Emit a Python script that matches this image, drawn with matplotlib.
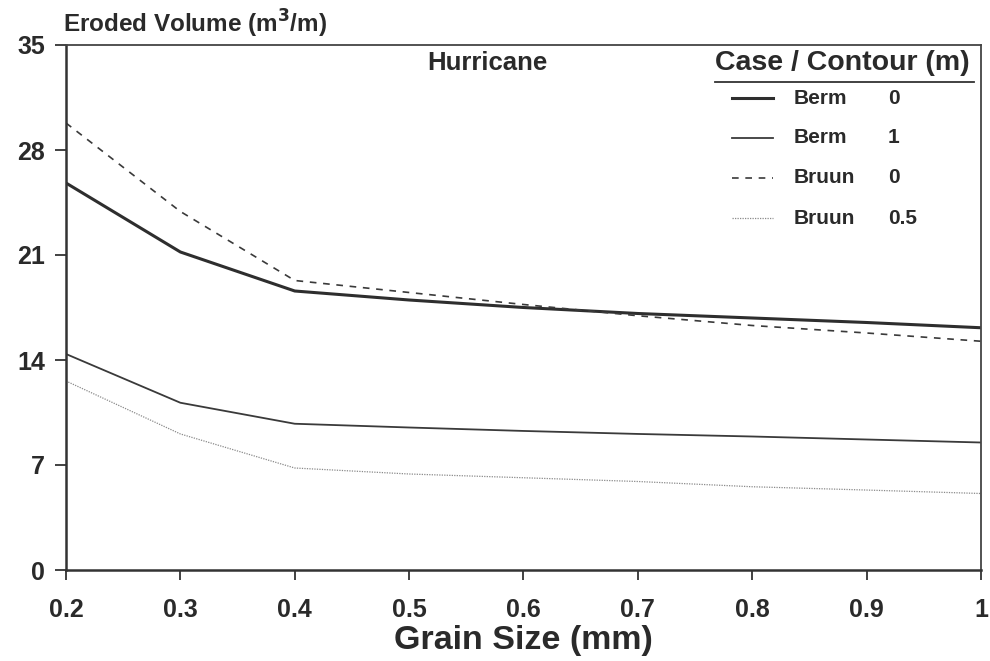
import numpy as np
import matplotlib
matplotlib.use('Agg')
import matplotlib.pyplot as plt
from matplotlib import rcParams

textcolor = '#2a2a2a'

rcParams['font.family'] = ['Liberation Sans', 'DejaVu Sans']
rcParams['font.weight'] = 'bold'
rcParams['text.color'] = textcolor
rcParams['mathtext.default'] = 'bf'

# Data.

grain = [0.2, 0.3, 0.4, 0.5, 0.6, 0.7, 0.8, 0.9, 1.0]

berm_0    = [25.8, 21.2, 18.6, 18.0, 17.5, 17.1, 16.8, 16.5, 16.15]
berm_1    = [14.4, 11.15, 9.75, 9.5, 9.27, 9.07, 8.9, 8.7, 8.5]
bruun_0   = [29.8, 23.9, 19.3, 18.5, 17.7, 16.95, 16.3, 15.8, 15.25]
bruun_05  = [12.6, 9.07, 6.8, 6.4, 6.15, 5.9, 5.55, 5.33, 5.1]

x_ticks = [0.2, 0.3, 0.4, 0.5, 0.6, 0.7, 0.8, 0.9, 1.0]
x_tick_labels = ['0.2', '0.3', '0.4', '0.5', '0.6', '0.7', '0.8', '0.9', '1']
y_ticks = [0, 7, 14, 21, 28, 35]

cases    = ['Berm', 'Berm', 'Bruun', 'Bruun']
contours = ['0', '1', '0', '0.5']

# Styles.

styles = [
    dict(color='#2e2e2e', linewidth=2.2, linestyle='-'),
    dict(color='#3a3a3a', linewidth=1.3, linestyle='-'),
    dict(color='#3a3a3a', linewidth=1.2, linestyle=(0, (4, 4))),
    dict(color='#8a8a8a', linewidth=0.9, linestyle=(0, (1, 1))),
]

# Plot.

fig = plt.figure(figsize=(9.9, 6.61), dpi=100)
ax = fig.add_axes([66/990, 1 - 570/661, 915/990, 525/661])

series = [berm_0, berm_1, bruun_0, bruun_05]
for values, st in zip(series, styles):
    ax.plot(grain, values, **st)

ax.set_xlim(0.2, 1.0)
ax.set_ylim(0, 35)
ax.set_xticks(x_ticks)
ax.set_xticklabels(x_tick_labels)
ax.set_yticks(y_ticks)

for spine in ['left', 'bottom']:
    ax.spines[spine].set_linewidth(1.8)
    ax.spines[spine].set_color('#333333')
for spine in ['top', 'right']:
    ax.spines[spine].set_linewidth(1.3)
    ax.spines[spine].set_color('#444444')

ax.tick_params(axis='y', direction='out', length=8, width=1.3,
               color='#333333', labelsize=18, pad=7, right=False)
ax.tick_params(axis='x', direction='out', length=7, width=1.3,
               color='#333333', labelsize=18, pad=13, top=False)
for lab in ax.get_xticklabels() + ax.get_yticklabels():
    lab.set_color(textcolor)
    lab.set_fontweight('bold')

ax.set_xlabel('Grain Size (mm)', fontsize=24.5, fontweight='bold',
              color=textcolor, labelpad=2)

fig.text(63/990, 1 - 24/661, r'Eroded Volume (m$^{3}$/m)',
         fontsize=17.5, fontweight='bold', ha='left', va='center')

ax.text(0.461, 0.966, 'Hurricane', transform=ax.transAxes,
        fontsize=18.5, fontweight='bold', ha='center', va='center')

# Legend, drawn by hand.
ax.text(0.848, 0.966, 'Case / Contour (m)', transform=ax.transAxes,
        fontsize=20.5, fontweight='bold', ha='center', va='center')
ax.plot([0.709, 0.992], [0.9295, 0.9295], transform=ax.transAxes,
        color='#333333', linewidth=1.3, clip_on=False)

rows_y = [0.899, 0.823, 0.747, 0.670]
for case, cont, st, yy in zip(cases, contours, styles, rows_y):
    ax.plot([0.728, 0.773], [yy, yy], transform=ax.transAxes, **st)
    ax.text(0.795, yy, case, transform=ax.transAxes, fontsize=15,
            fontweight='bold', ha='left', va='center')
    ax.text(0.898, yy, cont, transform=ax.transAxes, fontsize=15,
            fontweight='bold', ha='left', va='center')

fig.savefig('out.png', dpi=100)
plt.close()
